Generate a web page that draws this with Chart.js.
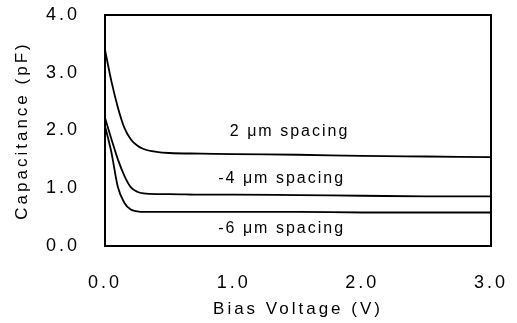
<!DOCTYPE html>
<html>
<head>
<meta charset="utf-8">
<script src="https://cdn.jsdelivr.net/npm/chart.js@4/dist/chart.umd.min.js"></script>
<style>
  html, body { margin: 0; padding: 0; background: #fff; }
  #wrap { width: 517px; height: 323px; }
</style>
</head>
<body>
<div id="wrap"><canvas id="c" width="517" height="323"></canvas></div>
<script>
const voltage = [0, 0.05, 0.1, 0.15, 0.2, 0.25, 0.3, 0.4, 0.5, 0.75, 1.0, 1.5, 2.0, 2.5, 3.0];
const cap2um = [3.40, 2.85, 2.40, 2.05, 1.85, 1.74, 1.68, 1.63, 1.61, 1.60, 1.59, 1.58, 1.56, 1.55, 1.54];
const cap4um = [2.22, 1.85, 1.50, 1.22, 1.02, 0.94, 0.91, 0.90, 0.90, 0.89, 0.89, 0.88, 0.87, 0.86, 0.86];
const cap6um = [2.08, 1.62, 1.02, 0.75, 0.63, 0.60, 0.59, 0.59, 0.59, 0.59, 0.59, 0.59, 0.58, 0.58, 0.58];
const seriesNames = ['2 μm spacing', '-4 μm spacing', '-6 μm spacing'];
const xTickLabels = ['0.0', '1.0', '2.0', '3.0'];
const yTickLabels = ['0.0', '1.0', '2.0', '3.0', '4.0'];
const xTitle = 'Bias Voltage (V)';
const yTitle = 'Capacitance (pF)';

const FONT = '"Liberation Sans", Arial, sans-serif';

function pts(ys) { return voltage.map((v, i) => ({ x: v, y: ys[i] })); }

const labelAnchors = [
  { x: 0.97, y: 1.98 },
  { x: 0.88, y: 1.17 },
  { x: 0.88, y: 0.31 }
];

const spacingPlugin = {
  id: 'spacing',
  beforeDraw(chart) { chart.ctx.letterSpacing = '3px'; },
  afterDatasetsDraw(chart) {
    const ctx = chart.ctx, a = chart.chartArea;
    ctx.save();
    ctx.strokeStyle = '#000';
    ctx.lineWidth = 2;
    ctx.strokeRect(a.left, a.top, a.right - a.left, a.bottom - a.top);
    ctx.font = '16px ' + FONT;
    ctx.letterSpacing = '2px';
    ctx.fillStyle = '#000';
    ctx.textAlign = 'left';
    ctx.textBaseline = 'middle';
    const xs = chart.scales.x, ys = chart.scales.y;
    seriesNames.forEach((n, i) => {
      ctx.fillText(n, xs.getPixelForValue(labelAnchors[i].x), ys.getPixelForValue(labelAnchors[i].y));
    });
    ctx.restore();
  }
};

function noPad(s) { s.paddingTop = 0; s.paddingBottom = 0; s.paddingLeft = 0; s.paddingRight = 0; }

const ds = (label, ys) => ({
  label, data: pts(ys),
  borderColor: '#000', borderWidth: 1.8,
  pointRadius: 0, fill: false,
  cubicInterpolationMode: 'monotone'
});

new Chart(document.getElementById('c'), {
  type: 'line',
  data: { datasets: [ds('2 μm', cap2um), ds('4 μm', cap4um), ds('6 μm', cap6um)] },
  options: {
    responsive: false,
    animation: false,
    devicePixelRatio: 1,
    layout: { padding: { top: 15, right: 26, left: 0, bottom: 0 } },
    plugins: { legend: { display: false }, tooltip: { enabled: false } },
    scales: {
      x: {
        type: 'linear', min: 0, max: 3,
        afterFit(s) { s.height = 77; noPad(s); },
        afterBuildTicks(s) { s.ticks = xTickLabels.map(t => ({ value: parseFloat(t) })); },
        grid: { display: false, drawTicks: false },
        border: { display: false },
        ticks: {
          padding: 26, color: '#000', font: { family: FONT, size: 18 },
          callback: (v, i) => xTickLabels[i]
        },
        title: { display: true, text: xTitle, color: '#000', font: { family: FONT, size: 17 }, padding: { top: 0, bottom: 3 } }
      },
      y: {
        type: 'linear', min: 0, max: 4,
        afterFit(s) { s.width = 105; noPad(s); },
        afterBuildTicks(s) { s.ticks = yTickLabels.map(t => ({ value: parseFloat(t) })); },
        grid: { display: false, drawTicks: false },
        border: { display: false },
        ticks: {
          padding: 25, color: '#000', font: { family: FONT, size: 18 },
          callback: (v, i) => yTickLabels[i]
        },
        title: { display: true, text: yTitle, color: '#000', font: { family: FONT, size: 17 }, padding: { top: 12, bottom: 0 } }
      }
    }
  },
  plugins: [spacingPlugin]
});
</script>
</body>
</html>
